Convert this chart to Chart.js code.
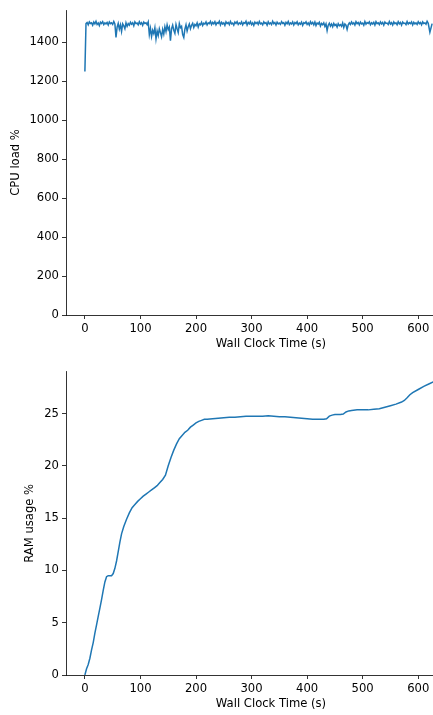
<!DOCTYPE html>
<html>
<head>
<meta charset="utf-8">
<script src="https://cdn.jsdelivr.net/npm/chart.js@4.4.0/dist/chart.umd.min.js"></script>
<style>
html,body{margin:0;padding:0;background:#fff;overflow:hidden;}
#wrap{position:relative;width:433px;height:715px;overflow:hidden;}
canvas{position:absolute;left:0;}
#c1{top:0;}
#c2{top:357px;}
</style>
</head>
<body>
<div id="wrap">
<canvas id="c1" width="520" height="357"></canvas>
<canvas id="c2" width="520" height="358"></canvas>
</div>
<script>
// ---- data ----
const xTickValues = [0, 100, 200, 300, 400, 500, 600];
const cpuTickValues = [0, 200, 400, 600, 800, 1000, 1200, 1400];
const ramTickValues = [0, 5, 10, 15, 20, 25];

const cpuTime = [
  0, 2, 4, 6, 8, 10, 12, 14, 16, 18, 20, 22, 24, 26, 28, 30, 32, 34, 36, 38,
  40, 42, 44, 46, 48, 50, 52, 54, 56, 58, 60, 62, 64, 66, 68, 70, 72, 74, 76, 78,
  80, 82, 84, 86, 88, 90, 92, 94, 96, 98, 100, 102, 104, 106, 108, 110, 112, 114, 116, 118,
  120, 122, 124, 126, 128, 130, 132, 134, 136, 138, 140, 142, 144, 146, 148, 150, 152, 154, 156, 158,
  160, 162, 164, 166, 168, 170, 172, 174, 176, 178, 180, 182, 184, 186, 188, 190, 192, 194, 196, 198,
  200, 202, 204, 206, 208, 210, 212, 214, 216, 218, 220, 222, 224, 226, 228, 230, 232, 234, 236, 238,
  240, 242, 244, 246, 248, 250, 252, 254, 256, 258, 260, 262, 264, 266, 268, 270, 272, 274, 276, 278,
  280, 282, 284, 286, 288, 290, 292, 294, 296, 298, 300, 302, 304, 306, 308, 310, 312, 314, 316, 318,
  320, 322, 324, 326, 328, 330, 332, 334, 336, 338, 340, 342, 344, 346, 348, 350, 352, 354, 356, 358,
  360, 362, 364, 366, 368, 370, 372, 374, 376, 378, 380, 382, 384, 386, 388, 390, 392, 394, 396, 398,
  400, 402, 404, 406, 408, 410, 412, 414, 416, 418, 420, 422, 424, 426, 428, 430, 432, 434, 436, 438,
  440, 442, 444, 446, 448, 450, 452, 454, 456, 458, 460, 462, 464, 466, 468, 470, 472, 474, 476, 478,
  480, 482, 484, 486, 488, 490, 492, 494, 496, 498, 500, 502, 504, 506, 508, 510, 512, 514, 516, 518,
  520, 522, 524, 526, 528, 530, 532, 534, 536, 538, 540, 542, 544, 546, 548, 550, 552, 554, 556, 558,
  560, 562, 564, 566, 568, 570, 572, 574, 576, 578, 580, 582, 584, 586, 588, 590, 592, 594, 596, 598,
  600, 602, 604, 606, 608, 610, 612, 614, 616, 618,
  621, 625];
const cpuLoad = [
  1250, 1496, 1502, 1490, 1505, 1497, 1500, 1488, 1504, 1495, 1508, 1492, 1499, 1486, 1503, 1497, 1506, 1491, 1500, 1495,
  1502, 1489, 1505, 1496, 1500, 1492, 1507, 1494, 1425, 1478, 1497, 1468, 1490, 1456, 1495, 1485, 1470, 1500, 1482, 1496,
  1488, 1503, 1493, 1500, 1485, 1505, 1496, 1499, 1490, 1506, 1494, 1501, 1487, 1504, 1497, 1500, 1491, 1505, 1440, 1472,
  1430, 1462, 1445, 1475, 1418, 1458, 1435, 1470, 1450, 1428, 1466, 1442, 1480, 1455, 1490, 1465, 1478, 1408, 1470, 1488,
  1462, 1446, 1492, 1470, 1450, 1496, 1475, 1482, 1440, 1425, 1468, 1490, 1458, 1480, 1494, 1470, 1488, 1498, 1476, 1492,
  1485, 1500, 1478, 1495, 1490, 1503, 1486, 1498, 1494, 1505, 1489, 1500, 1496, 1507, 1491, 1502, 1495, 1506, 1490, 1501,
  1497, 1508, 1489, 1503, 1494, 1500, 1487, 1505, 1496, 1502, 1491, 1507, 1495, 1499, 1488, 1504, 1497, 1506, 1492, 1500,
  1494, 1505, 1490, 1501, 1497, 1508, 1489, 1502, 1495, 1506, 1491, 1500, 1487, 1504, 1496, 1503, 1492, 1507, 1495, 1499,
  1490, 1505, 1497, 1501, 1488, 1506, 1494, 1500, 1491, 1508, 1496, 1502, 1489, 1504, 1495, 1499, 1492, 1506, 1497, 1501,
  1488, 1503, 1495, 1507, 1491, 1500, 1494, 1505, 1489, 1502, 1496, 1506, 1490, 1499, 1493, 1504, 1487, 1501, 1497, 1505,
  1492, 1500, 1489, 1506, 1495, 1502, 1490, 1504, 1486, 1499, 1494, 1503, 1484, 1497, 1490, 1500, 1482, 1495, 1460, 1488,
  1498, 1483, 1494, 1480, 1497, 1486, 1492, 1478, 1496, 1485, 1491, 1482, 1499, 1476, 1494, 1488, 1466, 1490, 1500, 1492,
  1505, 1494, 1500, 1489, 1506, 1496, 1502, 1490, 1504, 1495, 1499, 1488, 1507, 1493, 1501, 1497, 1505, 1490, 1500, 1494,
  1503, 1489, 1506, 1496, 1500, 1491, 1505, 1495, 1502, 1488, 1504, 1497, 1499, 1492, 1507, 1494, 1501, 1489, 1505, 1496,
  1500, 1490, 1506, 1495, 1502, 1488, 1504, 1497, 1499, 1491, 1507, 1494, 1501, 1496, 1505, 1489, 1503, 1495, 1500, 1492,
  1506, 1496, 1502, 1490, 1505, 1497, 1500, 1493, 1508, 1498,
  1452, 1496];

const ramTime = [0, 3, 6, 9, 12, 15, 18, 21, 24, 27, 30, 33, 36, 39, 42, 45, 48, 51, 54, 57, 60, 63, 66, 70, 75,
  80, 85, 90, 95, 100, 105, 110, 115, 120, 125, 130, 135, 140, 145, 150, 155, 160, 165, 170, 175, 180, 185, 190,
  195, 200, 205, 210, 215, 220, 230, 240, 250, 260, 270, 280, 290, 300, 310, 320, 330, 340, 350, 360, 370, 380,
  390, 400, 410, 420, 430, 435, 440, 445, 450, 460, 465, 470, 475, 480, 490, 500, 510, 520, 530, 540, 550, 560,
  570, 575, 580, 585, 590, 600, 610, 620, 630];
const ramUsage = [0, 0.6, 1.0, 1.6, 2.4, 3.1, 4.0, 4.8, 5.6, 6.4, 7.2, 8.1, 8.9, 9.4, 9.5, 9.5, 9.5, 9.7, 10.2, 10.9, 11.8, 12.7, 13.5, 14.2, 14.9,
  15.5, 16.0, 16.3, 16.6, 16.85, 17.1, 17.3, 17.5, 17.7, 17.9, 18.1, 18.4, 18.7, 19.1, 20.0, 20.8, 21.5, 22.1, 22.6, 22.9, 23.2, 23.4, 23.7,
  23.9, 24.1, 24.25, 24.35, 24.45, 24.45, 24.5, 24.55, 24.6, 24.65, 24.65, 24.7, 24.75, 24.75, 24.75, 24.75, 24.78, 24.75, 24.7, 24.7, 24.65, 24.6,
  24.55, 24.5, 24.45, 24.45, 24.45, 24.5, 24.75, 24.85, 24.9, 24.9, 24.95, 25.15, 25.25, 25.3, 25.35, 25.35, 25.35, 25.4, 25.45, 25.6, 25.75, 25.9,
  26.1, 26.25, 26.5, 26.8, 27.0, 27.3, 27.6, 27.85, 28.1];

const xLabel = 'Wall Clock Time (s)';
const cpuLabel = 'CPU load %';
const ramLabel = 'RAM usage %';

// ---- chart ----
Chart.defaults.font.family = "'DejaVu Sans', sans-serif";
Chart.defaults.font.size = 11.6;
Chart.defaults.color = '#000';

function zip(xs, ys) { return xs.map((x, i) => ({x: x, y: ys[i]})); }

function makeChart(id, pts, yLabel, yMax, yTicks, xAxisH, yTitlePad, xTitlePad, topPad) {
  return new Chart(document.getElementById(id), {
    type: 'line',
    data: { datasets: [{ data: pts, borderColor: '#1f77b4', borderWidth: 1.5, pointRadius: 0, tension: 0, fill: false }] },
    options: {
      responsive: false, animation: false, devicePixelRatio: 1,
      layout: { padding: { top: topPad, right: 44, left: 0, bottom: 0 } },
      plugins: { legend: { display: false }, tooltip: { enabled: false } },
      scales: {
        x: {
          type: 'linear', min: -34, max: 704,
          afterBuildTicks: s => { s.ticks = xTickValues.map(v => ({value: v})); },
          afterFit: s => { s.height = xAxisH; },
          grid: { drawOnChartArea: false, drawTicks: true, tickLength: 4, color: '#000', lineWidth: 0.8 },
          border: { display: true, color: '#000', width: 0.8 },
          ticks: { padding: 3, maxRotation: 0, color: '#000', callback: v => String(v) },
          title: { display: true, text: xLabel, color: '#000', padding: { top: 0, bottom: xTitlePad } }
        },
        y: {
          type: 'linear', min: 0, max: yMax,
          afterBuildTicks: s => { s.ticks = yTicks.map(v => ({value: v})); },
          afterFit: s => { s.width = 66; },
          grid: { drawOnChartArea: false, drawTicks: true, tickLength: 4, color: '#000', lineWidth: 0.8 },
          border: { display: true, color: '#000', width: 0.8 },
          ticks: { padding: 3, color: '#000', callback: v => String(v) },
          title: { display: true, text: yLabel, color: '#000', padding: { top: yTitlePad, bottom: 0 } }
        }
      }
    }
  });
}

makeChart('c1', zip(cpuTime, cpuLoad), cpuLabel, 1566, cpuTickValues, 42, 9.0, 6.0, 10);
makeChart('c2', zip(ramTime, ramUsage), ramLabel, 29, ramTickValues, 40, 23.0, 4.0, 14.7);
</script>
</body>
</html>
